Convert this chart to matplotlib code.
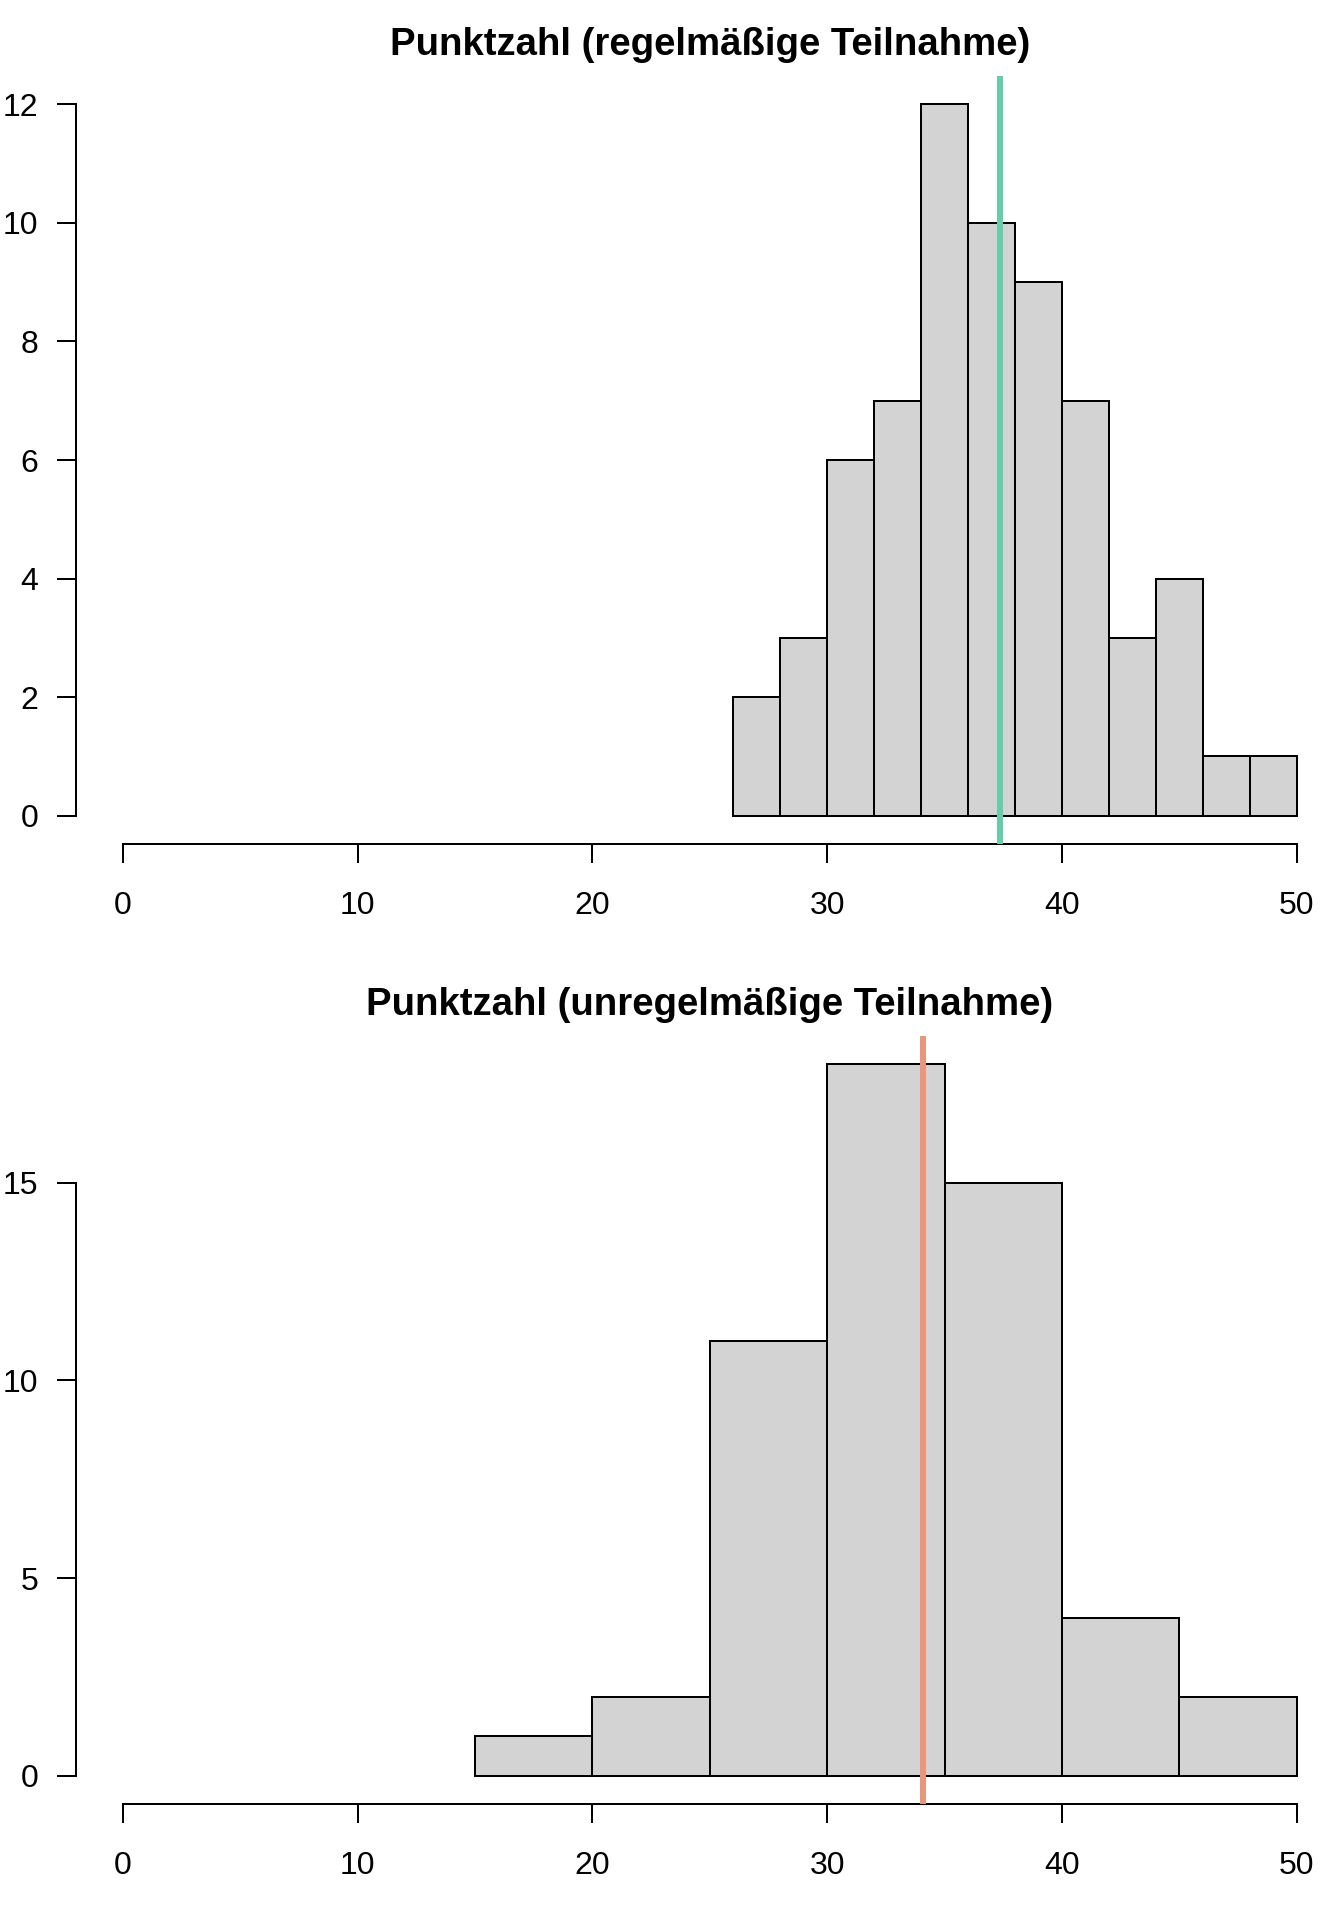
#!/usr/bin/env python3
"""Two R-style histograms of points (regular vs. irregular attendance)."""

import matplotlib
matplotlib.use("Agg")
import matplotlib.pyplot as plt

plt.rcParams["font.family"] = ["Liberation Sans", "DejaVu Sans"]

# regular attendance: bins of width 2 from 26 to 50
reg_edges = [26, 28, 30, 32, 34, 36, 38, 40, 42, 44, 46, 48, 50]
reg_counts = [2, 3, 6, 7, 12, 10, 9, 7, 3, 4, 1, 1]
reg_mean = 37.37
reg_yticks = [0, 2, 4, 6, 8, 10, 12]

# irregular attendance: bins of width 5 from 15 to 50
irr_edges = [15, 20, 25, 30, 35, 40, 45, 50]
irr_counts = [1, 2, 11, 18, 15, 4, 2]
irr_mean = 34.08
irr_yticks = [0, 5, 10, 15]

x_ticks = [0, 10, 20, 30, 40, 50]

titles = ["Punktzahl (regelmäßige Teilnahme)", "Punktzahl (unregelmäßige Teilnahme)"]
line_colors = ["#66CDAA", "#E9967A"]

LW = 0.75  # R lwd = 1


def draw_hist(ax, edges, counts, mean, yticks, title, color):
    widths = [b - a for a, b in zip(edges[:-1], edges[1:])]
    ax.bar(edges[:-1], counts, width=widths, align="edge",
           color="#D3D3D3", edgecolor="black", linewidth=LW, zorder=2)
    ymax = max(counts)
    ax.set_xlim(-2, 52)
    ax.set_ylim(-0.04 * ymax, 1.04 * ymax)
    ax.axvline(mean, color=color, linewidth=2.25, zorder=3,
               solid_capstyle="butt")

    for side in ("top", "right"):
        ax.spines[side].set_visible(False)
    ax.spines["left"].set_bounds(yticks[0], yticks[-1])
    ax.spines["bottom"].set_bounds(x_ticks[0], x_ticks[-1])
    for side in ("left", "bottom"):
        ax.spines[side].set_linewidth(LW)

    ax.set_xticks(x_ticks)
    ax.set_yticks(yticks)
    ax.tick_params(axis="both", direction="out", length=7.2, width=LW,
                   labelsize=12)
    ax.tick_params(axis="x", pad=10.5)
    ax.tick_params(axis="y", pad=7)
    ax.set_title(title, fontsize=14.4, fontweight="bold", pad=7.9)


def main():
    fig = plt.figure(figsize=(7, 10), dpi=192)
    left, width = 0.05655, 0.94315
    height = 0.40021
    ax_top = fig.add_axes([left, 0.56031, width, height])
    ax_bot = fig.add_axes([left, 0.06031, width, height])

    draw_hist(ax_top, reg_edges, reg_counts, reg_mean, reg_yticks,
              titles[0], line_colors[0])
    draw_hist(ax_bot, irr_edges, irr_counts, irr_mean, irr_yticks,
              titles[1], line_colors[1])

    fig.savefig("out.png", dpi=192)
    plt.close(fig)


if __name__ == "__main__":
    main()
